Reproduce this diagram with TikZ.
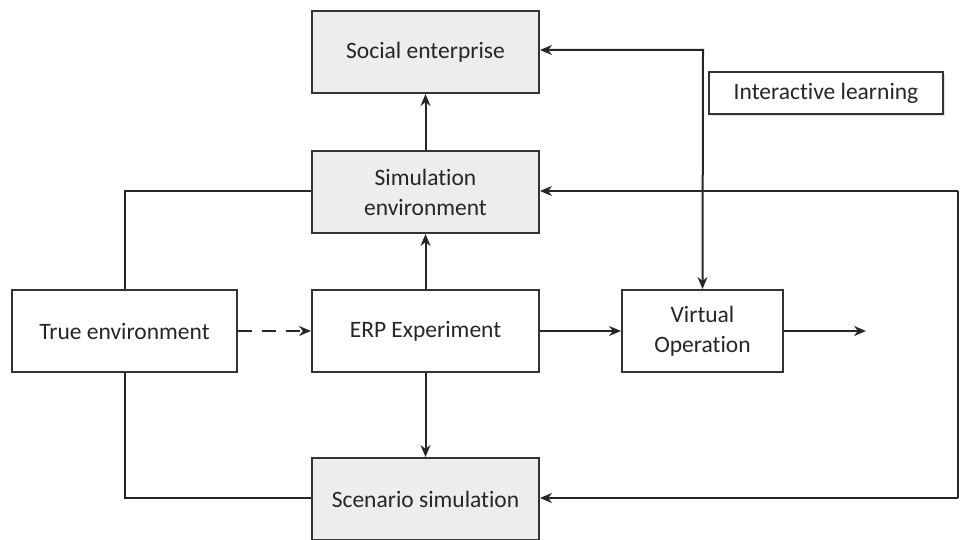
\documentclass[tikz,border=0pt]{standalone}
\usepackage{fontspec}
\setmainfont{Carlito}[Ligatures=NoCommon]
\usetikzlibrary{arrows.meta,shadows}
\begin{document}
\begin{tikzpicture}[x=1pt,y=-1pt,
  box/.style={draw=black!80,line width=2pt,minimum width=227pt,minimum height=82pt,align=center,font=\fontsize{23.5}{30}\selectfont,text=black!85,inner sep=0pt},
  graybox/.style={box,fill=black!7},
  whitebox/.style={box,fill=white},
  conn/.style={draw=black!85,line width=2pt},
  arr/.style={conn,-{Stealth[length=12pt,width=10pt]}},
  darr/.style={conn,{Stealth[length=12pt,width=10pt]}-{Stealth[length=12pt,width=10pt]}}
]
\useasboundingbox (0,0) rectangle (960,540);
\node[graybox] (soc) at (425.5,52) {Social enterprise};
\node[graybox] (sim) at (425.5,192) {Simulation\\environment};
\node[whitebox,minimum width=225pt] (true) at (124.5,331) {True environment};
\node[whitebox] (erp) at (425.5,331) {ERP Experiment};
\node[whitebox,minimum width=161pt] (virt) at (702.5,331) {Virtual\\Operation};
\node[graybox] (scen) at (425.5,499) {Scenario simulation};
\node[whitebox,minimum width=234pt,minimum height=42pt,line width=1.6pt,drop shadow={shadow xshift=2pt,shadow yshift=-2pt,opacity=0.25}] (il) at (826,93) {Interactive learning};
\coordinate (out) at (866,331);
\coordinate (rt) at (958,191);
\coordinate (rb) at (958,498);
\coordinate (tl) at (124.5,191);
\coordinate (bl) at (124.5,498);
\coordinate (tr) at (703,50);

\draw[arr] (erp.north) -- (sim.south);
\draw[arr] (sim.north) -- (soc.south);
\draw[arr] (erp.south) -- (scen.north);
\draw[arr,dashed,dash pattern=on 14pt off 10pt] (true.east) -- (erp.west);
\draw[arr] (erp.east) -- (virt.west);
\draw[arr] (virt.east) -- (out);
\draw[conn] (true.north) -- (tl) -- (sim.west |- tl);
\draw[conn] (true.south) -- (bl) -- (scen.west |- bl);
\draw[conn] (rt) -- (rb);
\draw[arr] (rt) -- (sim.east |- rt);
\draw[arr] (rb) -- (scen.east |- rb);
\draw[darr] (soc.east |- tr) -- (tr) -- (virt.north);
\end{tikzpicture}
\end{document}
